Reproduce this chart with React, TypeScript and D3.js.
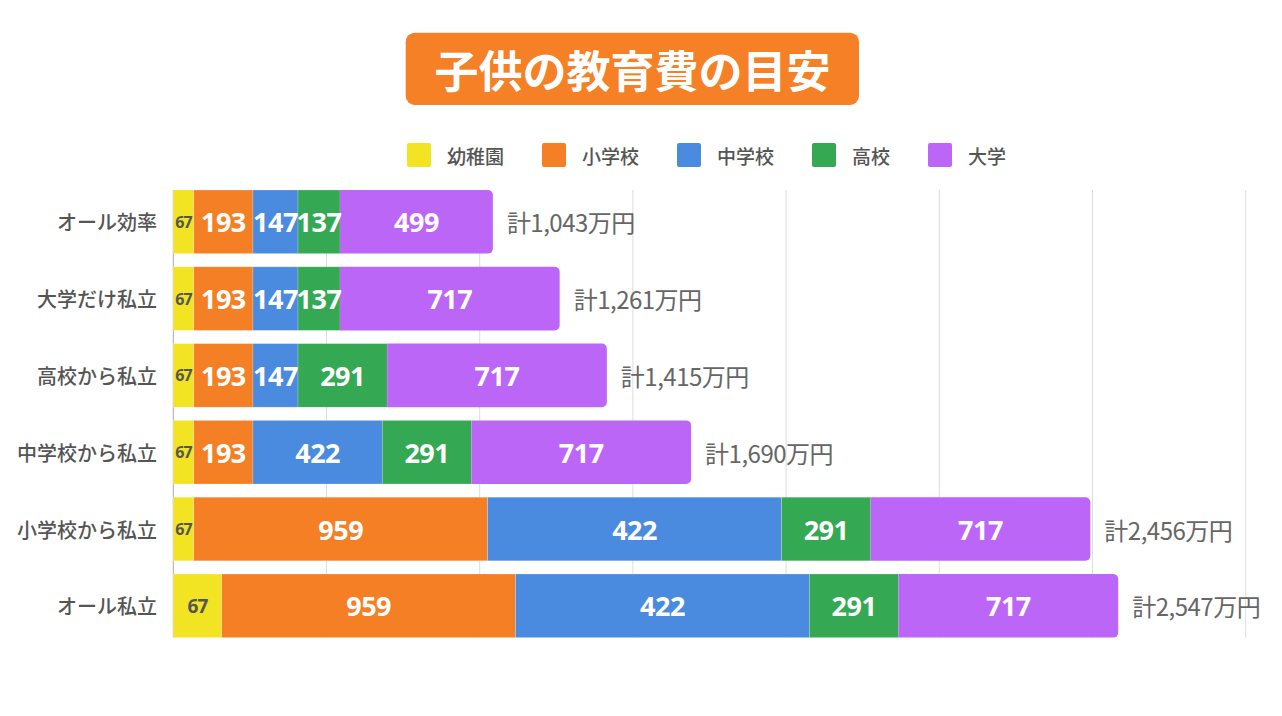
import React from 'react';
import * as d3 from 'd3';

const TITLE = '子供の教育費の目安';
const categories = ['オール効率', '大学だけ私立', '高校から私立', '中学校から私立', '小学校から私立', 'オール私立'];
const seriesNames = ['幼稚園', '小学校', '中学校', '高校', '大学'];
const seriesColors = ['#F2E422', '#F57F25', '#4A8BE0', '#34A853', '#BC66F7'];

// labelled values (万円)
const kindergarten = [67, 67, 67, 67, 67, 67];
const elementary = [193, 193, 193, 193, 959, 959];
const juniorHigh = [147, 147, 147, 422, 422, 422];
const highSchool = [137, 137, 291, 291, 291, 291];
const university = [499, 717, 717, 717, 717, 717];
const totals = ['1,043', '1,261', '1,415', '1,690', '2,456', '2,547'];

// bar lengths as drawn in the reference (some differ from their labels)
const kindergartenDrawn = [67, 67, 67, 67, 67, 158];
const juniorHighDrawn = [147, 147, 147, 422, 959, 959];

const xTicks = [0, 500, 1000, 1500, 2000, 2500, 3000, 3500];

const labelSeries = [kindergarten, elementary, juniorHigh, highSchool, university];
const drawnSeries = [kindergartenDrawn, elementary, juniorHighDrawn, highSchool, university];

const JP = '"Noto Sans CJK JP", "Noto Sans", sans-serif';
const NUM = '"Open Sans", "Noto Sans", sans-serif';

export default function App() {
  const width = 1282;
  const height = 716;
  const x = d3.scaleLinear().domain([0, 3500]).range([173.3, 1245.7]);
  const y = d3.scaleBand<string>().domain(categories).range([190, 637.6]).paddingInner(0.172).paddingOuter(0);
  const bw = y.bandwidth();

  const stackData = categories.map((c, i) => {
    const row: Record<string, number | string> = { cat: c };
    seriesNames.forEach((s, k) => (row[s] = drawnSeries[k][i]));
    return row;
  });
  const stacked = d3.stack<any>().keys(seriesNames)(stackData as any);

  // legend layout
  const charW = 19;
  const legendItems: { name: string; x: number; color: string }[] = [];
  let lx = 407;
  seriesNames.forEach((n, k) => {
    legendItems.push({ name: n, x: lx, color: seriesColors[k] });
    lx += 24 + 16 + n.length * charW + 38;
  });

  const r = 5;
  const roundedRight = (x0: number, x1: number, y0: number, h: number) => {
    const p = d3.path();
    p.moveTo(x0, y0);
    p.lineTo(x1 - r, y0);
    p.arcTo(x1, y0, x1, y0 + r, r);
    p.lineTo(x1, y0 + h - r);
    p.arcTo(x1, y0 + h, x1 - r, y0 + h, r);
    p.lineTo(x0, y0 + h);
    p.closePath();
    return p.toString();
  };

  return (
    <svg width={width} height={height} style={{ position: 'absolute', left: 0, top: 0, background: '#fff' }}>
      {/* title */}
      <rect x={405.7} y={32.7} width={453.3} height={72.3} rx={9} fill="#F58025" />
      <text x={632.4} y={69} textAnchor="middle" dominantBaseline="central" fill="#fff" fontFamily={JP} fontWeight={700} fontSize={44}>
        {TITLE}
      </text>

      {/* legend */}
      {legendItems.map((it) => (
        <g key={it.name}>
          <rect x={it.x} y={143} width={24} height={24} rx={2} fill={it.color} />
          <text x={it.x + 40} y={155} dominantBaseline="central" fill="#555" fontFamily={JP} fontWeight={500} fontSize={19}>
            {it.name}
          </text>
        </g>
      ))}

      {/* gridlines */}
      {xTicks.slice(1).map((t) => (
        <line key={t} x1={x(t)} x2={x(t)} y1={y.range()[0]} y2={y.range()[1]} stroke="#dddddd" strokeWidth={1} />
      ))}
      <line x1={x(0)} x2={x(0)} y1={y.range()[0]} y2={y.range()[1]} stroke="#aaaaaa" strokeWidth={1} />

      {/* bars */}
      {stacked.map((layer, k) =>
        layer.map((d, i) => {
          const y0 = y(categories[i]) as number;
          const x0 = x(d[0]);
          const x1 = x(d[1]);
          const isLast = k === seriesNames.length - 1;
          return isLast ? (
            <path key={`${k}-${i}`} d={roundedRight(x0, x1, y0, bw)} fill={seriesColors[k]} />
          ) : (
            <rect key={`${k}-${i}`} x={x0} y={y0} width={x1 - x0} height={bw} fill={seriesColors[k]} stroke="rgba(255,255,255,0.35)" strokeWidth={0.6} />
          );
        })
      )}

      {/* segment labels */}
      {stacked.map((layer, k) =>
        layer.map((d, i) => {
          const cy = (y(categories[i]) as number) + bw / 2;
          const cx = (x(d[0]) + x(d[1])) / 2;
          const isYellow = k === 0;
          const fs = isYellow ? (x(d[1]) - x(d[0]) > 30 ? 19 : 16) : 27;
          return (
            <text key={`l${k}-${i}`} x={cx} y={cy} textAnchor="middle" dominantBaseline="central" fill={isYellow ? '#555' : '#fff'} fontFamily={NUM} fontWeight={700} fontSize={fs} letterSpacing={isYellow ? -0.8 : -0.5}>
              {labelSeries[k][i]}
            </text>
          );
        })
      )}

      {/* totals */}
      {categories.map((c, i) => {
        const end = stacked[stacked.length - 1][i][1];
        return (
          <text key={`t${i}`} x={x(end) + 14} y={(y(c) as number) + bw / 2} dominantBaseline="central" fill="#666" fontFamily={JP} fontSize={24} letterSpacing={-0.5}>
            {`計${totals[i]}万円`}
          </text>
        );
      })}

      {/* categories */}
      {categories.map((c) => (
        <text key={c} x={157} y={(y(c) as number) + bw / 2} textAnchor="end" dominantBaseline="central" fill="#555" fontFamily={JP} fontWeight={500} fontSize={20}>
          {c}
        </text>
      ))}
    </svg>
  );
}
